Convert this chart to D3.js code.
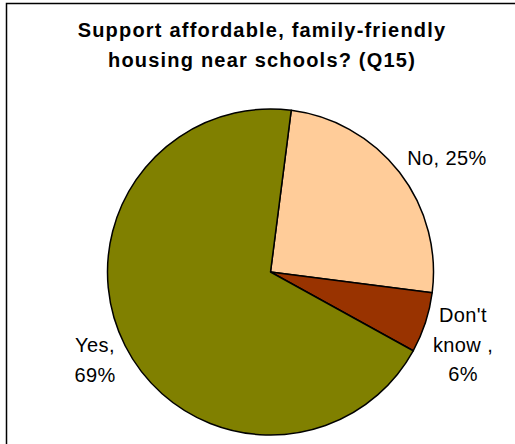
<!DOCTYPE html>
<html>
<head>
<meta charset="utf-8">
<script src="https://cdn.jsdelivr.net/npm/d3@7/dist/d3.min.js"></script>
<style>
  html, body { margin: 0; padding: 0; background: #fff; }
  svg { display: block; }
</style>
</head>
<body>
<svg id="chart" width="515" height="444"></svg>
<script>
// Survey responses, in drawing order (clockwise)
const categories = ["No", "Don't know", "Yes"];
const values = [25, 6, 69];
const colors = ["#FFCC99", "#993300", "#808000"];
const labelLines = [["No, 25%"], ["Don't", "know ,", "6%"], ["Yes,", "69%"]];
const titleLines = ["Support affordable, family-friendly", "housing near schools? (Q15)"];

const svg = d3.select("#chart");
const cx = 270.5, cy = 272, r = 163;

// Chart frame
svg.append("rect")
  .attr("x", 6.5).attr("y", 3.5)
  .attr("width", 520).attr("height", 460)
  .attr("fill", "#fff")
  .attr("stroke", "#000").attr("stroke-width", 1.5);

// Title
svg.append("g").selectAll("text")
  .data(titleLines)
  .join("text")
  .attr("x", 262)
  .attr("y", (d, i) => 37 + i * 29.5)
  .attr("text-anchor", "middle")
  .attr("font-family", "Arial, 'Liberation Sans', sans-serif")
  .attr("font-weight", "bold")
  .attr("font-size", 20)
  .attr("letter-spacing", 1.2)
  .attr("fill", "#000")
  .text(d => d);

// Pie
const startOffset = 7.3 * Math.PI / 180;
const pie = d3.pie()
  .sort(null)
  .value(d => d)
  .startAngle(startOffset)
  .endAngle(startOffset + 2 * Math.PI);
const arcs = pie(values);
const arc = d3.arc().innerRadius(0).outerRadius(r);

const g = svg.append("g").attr("transform", `translate(${cx},${cy})`);
g.selectAll("path")
  .data(arcs)
  .join("path")
  .attr("d", arc)
  .attr("fill", (d, i) => colors[i])
  .attr("stroke", "#000")
  .attr("stroke-width", 1.5)
  .attr("stroke-linejoin", "round");

// Labels placed outside each slice
const labelPos = [
  { x: 447, y: 165 },
  { x: 463, y: 322 },
  { x: 95, y: 352 }
];
const lineGap = 29.5;
const lg = svg.append("g");
arcs.forEach((a, i) => {
  const t = lg.append("text")
    .attr("text-anchor", "middle")
    .attr("font-family", "Arial, 'Liberation Sans', sans-serif")
    .attr("font-size", 20)
    .attr("letter-spacing", 0.4)
    .attr("fill", "#000");
  labelLines[i].forEach((line, j) => {
    t.append("tspan")
      .attr("x", labelPos[i].x)
      .attr("y", labelPos[i].y + j * lineGap)
      .text(line);
  });
});
</script>
</body>
</html>
